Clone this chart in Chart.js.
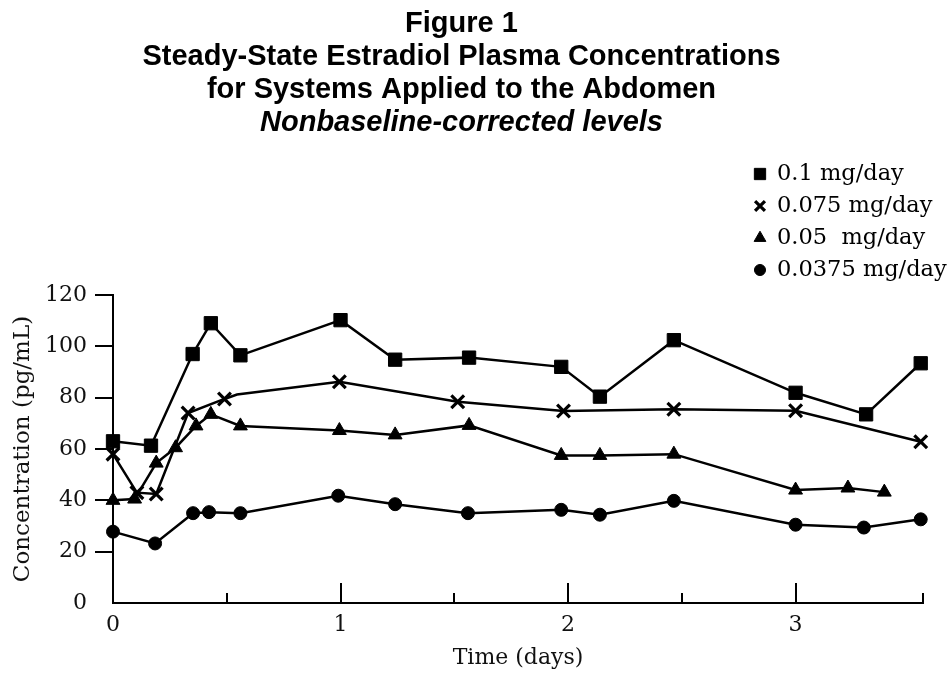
<!DOCTYPE html>
<html>
<head>
<meta charset="utf-8">
<script src="https://cdn.jsdelivr.net/npm/chart.js@4/dist/chart.umd.min.js"></script>
<style>
  html, body { margin: 0; padding: 0; background: #fff; }
  canvas { display: block; }
</style>
</head>
<body>
<canvas id="chart" width="951" height="673"></canvas>
<script>
// values (time in days, concentration in pg/mL)
const seriesLabels = ['0.1 mg/day', '0.075 mg/day', '0.05  mg/day', '0.0375 mg/day'];

const time01 = [0, 0.167, 0.35, 0.43, 0.56, 1.0, 1.24, 1.565, 1.97, 2.14, 2.465, 3.0, 3.31, 3.55];
const conc01 = [63, 61.3, 97, 109, 96.5, 110.2, 94.8, 95.6, 92, 80.4, 102.4, 81.9, 73.5, 93.4];

const time0075 = [0, 0.105, 0.19, 0.33, 0.49, 0.545, 0.995, 1.515, 1.98, 2.465, 3.0, 3.55];
const conc0075 = [58, 43, 42.5, 74, 79.5, 81.2, 86.2, 78.4, 74.8, 75.5, 74.9, 62.8];

const time005 = [0, 0.095, 0.19, 0.275, 0.365, 0.43, 0.56, 0.995, 1.24, 1.565, 1.97, 2.14, 2.465, 3.0, 3.23, 3.39];
const conc005 = [40, 40.5, 54.5, 60.5, 69, 73.5, 69, 67.2, 65.5, 69.2, 57.5, 57.5, 58, 44, 44.8, 43.2];

const time00375 = [0, 0.185, 0.352, 0.422, 0.56, 0.99, 1.24, 1.56, 1.97, 2.14, 2.465, 3.0, 3.3, 3.55];
const conc00375 = [27.8, 23.2, 35, 35.4, 35, 41.8, 38.5, 35, 36.3, 34.4, 39.8, 30.5, 29.4, 32.6];

const xTickValues = [0, 1, 2, 3];
const xMarkValues = [0.5, 1, 1.5, 2, 2.5, 3];
const xMax = 3.56;

const serif = "'DejaVu Serif', serif";
const sans = "'Liberation Sans', Arial, sans-serif";

function pts(xs, ys) {
  return xs.map(function (x, i) { return { x: x, y: ys[i] }; });
}

// the 0.075 line bends once without a visible marker
const crossBendIndex = 5;

const styles = [
  { pointStyle: 'rect', radius: 9.4, border: 1 },
  { pointStyle: 'crossRot', radius: 9, border: 3.2 },
  { pointStyle: 'triangle', radius: 8, border: 1 },
  { pointStyle: 'circle', radius: 6.5, border: 1 }
];

function makeSet(label, data, st) {
  return {
    label: label,
    data: data,
    borderColor: '#000',
    backgroundColor: '#000',
    borderWidth: 2.5,
    pointStyle: st.pointStyle,
    pointRadius: st.radius,
    pointBorderWidth: st.border,
    pointBackgroundColor: '#000',
    pointBorderColor: '#000',
    tension: 0,
    clip: false
  };
}

const datasets = [
  makeSet(seriesLabels[0], pts(time01, conc01), styles[0]),
  makeSet(seriesLabels[1], pts(time0075, conc0075), styles[1]),
  makeSet(seriesLabels[2], pts(time005, conc005), styles[2]),
  makeSet(seriesLabels[3], pts(time00375, conc00375), styles[3])
];
datasets[1].pointRadius = function (ctx) {
  return ctx.dataIndex === crossBendIndex ? 0 : styles[1].radius;
};

// inward tick marks on the x axis
const xTickMarks = {
  id: 'xTickMarks',
  afterDraw: function (chart) {
    const sc = chart.scales.x;
    const ctx = chart.ctx;
    const y0 = chart.chartArea.bottom;
    ctx.save();
    ctx.strokeStyle = '#000';
    ctx.lineWidth = 2;
    const vals = xMarkValues.concat([xMax]);
    vals.forEach(function (v) {
      const x = Math.round(sc.getPixelForValue(v));
      const len = Number.isInteger(v) ? 20 : 10;
      ctx.beginPath();
      ctx.moveTo(x, y0);
      ctx.lineTo(x, y0 - len);
      ctx.stroke();
    });
    ctx.restore();
  }
};

// legend drawn as a column in the top right corner
const columnLegend = {
  id: 'columnLegend',
  afterDraw: function (chart) {
    const ctx = chart.ctx;
    ctx.save();
    ctx.fillStyle = '#000';
    ctx.strokeStyle = '#000';
    ctx.font = '22.5px ' + serif;
    ctx.textBaseline = 'middle';
    ctx.textAlign = 'left';
    seriesLabels.forEach(function (label, i) {
      const y = 174 + i * 32;
      const st = styles[i];
      const opts = {
        pointStyle: st.pointStyle,
        radius: st.pointStyle === 'crossRot' ? 7 : st.radius * 0.85,
        rotation: 0,
        borderWidth: st.border
      };
      ctx.lineWidth = st.border;
      if (Chart.helpers && Chart.helpers.drawPoint) {
        Chart.helpers.drawPoint(ctx, opts, 760, y);
      }
      ctx.fillText(label, 777, y);
    });
    ctx.restore();
  }
};

new Chart(document.getElementById('chart'), {
  type: 'line',
  data: { datasets: datasets },
  options: {
    responsive: false,
    animation: false,
    layout: { padding: { left: 0, right: 28, top: 0, bottom: 0 } },
    plugins: {
      legend: { display: false },
      tooltip: { enabled: false },
      title: {
        display: true,
        text: ['Figure 1', 'Steady-State Estradiol Plasma Concentrations', 'for Systems Applied to the Abdomen'],
        color: '#000',
        font: { family: sans, size: 29, weight: 'bold', lineHeight: 33 / 29 },
        padding: { top: 7, bottom: 0 }
      },
      subtitle: {
        display: true,
        text: 'Nonbaseline-corrected levels',
        color: '#000',
        font: { family: sans, size: 29, weight: 'bold', style: 'italic', lineHeight: 33 / 29 },
        padding: { top: 0, bottom: 156 }
      }
    },
    scales: {
      x: {
        type: 'linear',
        min: 0,
        max: xMax,
        afterBuildTicks: function (scale) {
          scale.ticks = xTickValues.map(function (v) { return { value: v }; });
        },
        afterFit: function (scale) { scale.height = 70; },
        grid: { display: true, drawOnChartArea: false, drawTicks: false },
        border: { display: true, color: '#000', width: 2 },
        ticks: {
          color: '#111',
          font: { family: serif, size: 22 },
          padding: 9,
          maxRotation: 0,
          callback: function (v) { return String(v); }
        },
        title: {
          display: true,
          text: 'Time (days)',
          color: '#111',
          font: { family: serif, size: 22 },
          padding: { top: 0, bottom: 2 }
        }
      },
      y: {
        min: 0,
        max: 120,
        afterFit: function (scale) { scale.width = 113; },
        grid: {
          drawOnChartArea: false,
          tickLength: 18,
          lineWidth: 2,
          color: function (ctx) { return ctx.tick && ctx.tick.value === 0 ? 'rgba(0,0,0,0)' : '#000'; }
        },
        border: { display: true, color: '#000', width: 2 },
        ticks: {
          stepSize: 20,
          color: '#111',
          font: { family: serif, size: 22 },
          padding: 8
        },
        title: {
          display: true,
          text: 'Concentration (pg/mL)',
          color: '#111',
          font: { family: serif, size: 23 },
          padding: { top: 9, bottom: 0 }
        }
      }
    }
  },
  plugins: [xTickMarks, columnLegend]
});
</script>
</body>
</html>
